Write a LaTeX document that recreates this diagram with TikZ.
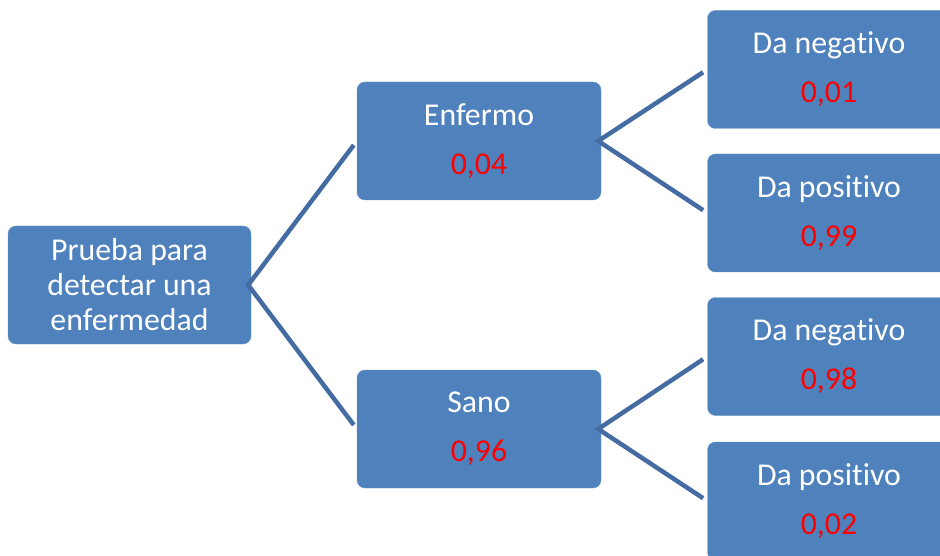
\documentclass[tikz,border=0pt]{standalone}
\usepackage{fontspec}
\setmainfont[Ligatures={NoCommon}]{Carlito}
\usetikzlibrary{positioning}
\definecolor{myblue}{RGB}{79,129,189}
\definecolor{mylineblue}{RGB}{68,108,162}
\colorlet{myred}{red}
\tikzstyle{mybox}=[fill=myblue,draw=myblue!85!white,thin,rounded corners=8pt,
                   minimum width=243pt,minimum height=118pt,inner sep=0pt,
                   text=white,align=center,font=\fontsize{31.8}{35}\selectfont]
\tikzstyle{myline}=[mylineblue,line width=4.5pt,miter limit=20,shorten <=5pt,shorten >=5pt]
\newcommand{\prob}[1]{\\[14pt]\textcolor{myred}{#1}}

\begin{document}
\begin{tikzpicture}[x=1pt,y=-1pt]
  \useasboundingbox (0,0) rectangle (940,556);

  % 0
  \node[mybox] (0) at (129.5,285) {Prueba para\\detectar una\\enfermedad};

  % 00 and 01
  \node[mybox,minimum width=244pt] (00) at (479,141) {Enfermo\prob{0,04}};
  \node[mybox,minimum width=244pt] (01) at (479,429) {Sano\prob{0,96}};
  \draw[myline] (00.west) -- ([xshift=-3pt]0.east) -- (01.west);

  % 000 and 001
  \node[mybox] (000) at (829,69.5) {Da negativo\prob{0,01}};
  \node[mybox] (001) at (829,213) {Da positivo\prob{0,99}};
  \draw[myline] (000.west) -- ([xshift=-3pt]00.east) -- (001.west);

  % 010 and 011
  \node[mybox] (010) at (829,356.5) {Da negativo\prob{0,98}};
  \node[mybox] (011) at (829,501) {Da positivo\prob{0,02}};
  \draw[myline] (010.west) -- ([xshift=-3pt]01.east) -- (011.west);
\end{tikzpicture}
\end{document}
